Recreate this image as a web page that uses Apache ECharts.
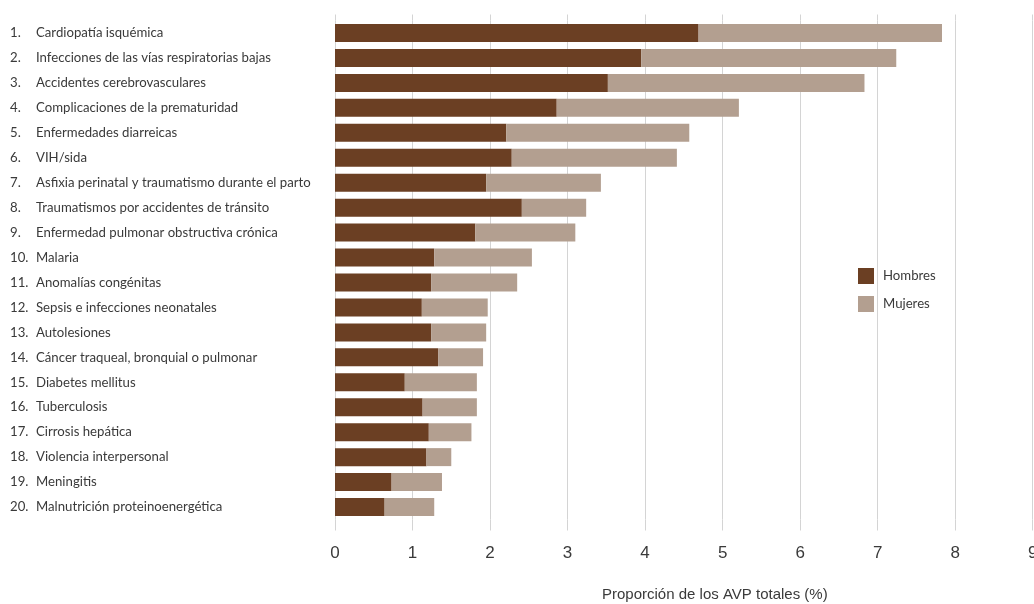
<!DOCTYPE html>
<html>
<head>
<meta charset="utf-8">
<script src="https://cdn.jsdelivr.net/npm/echarts@6/dist/echarts.min.js"></script>
<style>
html,body{margin:0;padding:0;background:#fff;overflow:hidden;}
#chart{width:1034px;height:604px;}
</style>
</head>
<body>
<div id="chart"></div>
<script>
const categories = [
  "Cardiopatía isquémica",
  "Infecciones de las vías respiratorias bajas",
  "Accidentes cerebrovasculares",
  "Complicaciones de la prematuridad",
  "Enfermedades diarreicas",
  "VIH/sida",
  "Asfixia perinatal y traumatismo durante el parto",
  "Traumatismos por accidentes de tránsito",
  "Enfermedad pulmonar obstructiva crónica",
  "Malaria",
  "Anomalías congénitas",
  "Sepsis e infecciones neonatales",
  "Autolesiones",
  "Cáncer traqueal, bronquial o pulmonar",
  "Diabetes mellitus",
  "Tuberculosis",
  "Cirrosis hepática",
  "Violencia interpersonal",
  "Meningitis",
  "Malnutrición proteinoenergética"
];
const hombres = [4.69, 3.95, 3.52, 2.86, 2.21, 2.28, 1.95, 2.41, 1.81, 1.28, 1.24, 1.12, 1.24, 1.33, 0.90, 1.13, 1.21, 1.18, 0.73, 0.64];
const mujeres = [3.14, 3.29, 3.31, 2.35, 2.36, 2.13, 1.48, 0.83, 1.29, 1.26, 1.11, 0.85, 0.71, 0.58, 0.93, 0.70, 0.55, 0.32, 0.65, 0.64];
const seriesNames = ["Hombres", "Mujeres"];
const axisTitle = "Proporción de los AVP totales (%)";
const xMin = 0, xMax = 9, xStep = 1;

const FONT = "Lato, sans-serif";
const AXFONT = "'Liberation Sans', sans-serif";
const GRID = "#d4d4d4";
const TXT = "#3a3a3a";

const chart = echarts.init(document.getElementById('chart'), null, {renderer: 'canvas', width: 1034, height: 604});
chart.setOption({
  animation: false,
  backgroundColor: '#ffffff',
  grid: {left: 335, right: 1.3, top: 20.5, bottom: 84.5, containLabel: false, outerBoundsMode: 'none'},
  legend: {
    data: seriesNames,
    orient: 'vertical',
    left: 853, top: 263,
    itemWidth: 16, itemHeight: 16, itemGap: 12,
    icon: 'rect',
    textStyle: {fontFamily: FONT, fontSize: 13.2, color: TXT, padding: [0, 0, 0, 4]}
  },
  xAxis: [{
    type: 'value', min: xMin, max: xMax, interval: xStep,
    position: 'bottom',
    name: axisTitle,
    nameLocation: 'middle',
    nameGap: 68,
    nameTextStyle: {fontFamily: AXFONT, fontSize: 15, color: TXT, padding: [0,0,0,62]},
    axisLine: {show: false},
    axisTick: {show: true, length: 11, lineStyle: {color: GRID}},
    axisLabel: {fontFamily: AXFONT, fontSize: 17, color: TXT, margin: 25},
    splitLine: {show: true, lineStyle: {color: GRID, width: 1}}
  }, {
    type: 'value', min: xMin, max: xMax, interval: xStep,
    position: 'top',
    axisLine: {show: false},
    axisTick: {show: true, length: 6, lineStyle: {color: GRID}},
    axisLabel: {show: false},
    splitLine: {show: false}
  }],
  yAxis: {
    type: 'category',
    data: categories,
    inverse: true,
    axisLine: {show: false},
    axisTick: {show: false},
    axisLabel: {
      align: 'left',
      margin: 325,
      formatter: function (v, i) { return '{n|' + (i + 1) + '.}{t|' + v + '}'; },
      rich: {
        n: {fontFamily: FONT, fontSize: 13.2, color: TXT, width: 26},
        t: {fontFamily: FONT, fontSize: 13.2, color: TXT}
      }
    }
  },
  series: [{
    name: seriesNames[0], type: 'bar', stack: 'total', xAxisIndex: 0,
    data: hombres, barWidth: 18,
    itemStyle: {color: '#6b3f23'}
  }, {
    name: seriesNames[1], type: 'bar', stack: 'total', xAxisIndex: 0,
    data: mujeres, barWidth: 18,
    itemStyle: {color: '#b39f90'}
  }]
});
</script>
</body>
</html>
